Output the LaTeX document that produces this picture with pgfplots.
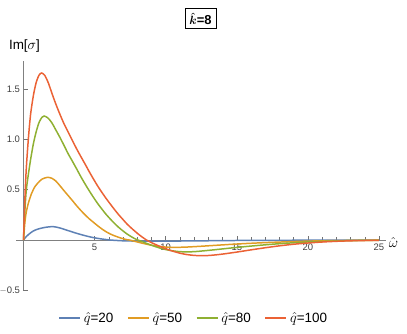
\documentclass[border=0pt]{standalone}
\usepackage{amsmath}
\usepackage{fontspec}
\setmainfont{Liberation Sans}
\usepackage{pgfplots}
\pgfplotsset{compat=1.18}

\definecolor{mblue}{RGB}{94,129,181}
\definecolor{morange}{RGB}{225,156,36}
\definecolor{mgreen}{RGB}{143,176,50}
\definecolor{mred}{RGB}{235,98,53}

\begin{document}
\begin{tikzpicture}
\path[use as bounding box] (-23.5bp,-94bp) rectangle (383.5bp,240bp);
\begin{axis}[
    at={(0,0)}, anchor=origin,
    scale only axis,
    width=369.7bp, height=229.4bp,
    xmin=-0.5, xmax=25.5,
    ymin=-0.5, ymax=1.78,
    axis lines=middle,
    axis line style={black!50, line width=0.9pt, -},
    xtick={5,10,15,20,25},
    ytick={-0.5,0.5,1.0,1.5},
    yticklabels={$-$0.5,0.5,1.0,1.5},
    minor x tick num=4,
    minor y tick num=4,
    tick align=inside,
    major tick length=4bp,
    minor tick length=2.5bp,
    tick style={black!55, line width=0.5pt},
    tick label style={font=\fontsize{9.5}{11}\selectfont, text=black!75},
    /pgf/number format/assume math mode=true,
    /pgf/number format/fixed,
    /pgf/number format/precision=1,
    clip=false,
    legend columns=4,
    legend style={draw=none, fill=none, at={(0.48,-0.121)}, anchor=center,
        font=\fontsize{13.5}{16}\selectfont, column sep=1bp,
        /tikz/every even column/.append style={column sep=12bp}},
    legend image code/.code={\draw[#1, line width=1.2pt] (0bp,0bp) -- (21bp,0bp);},
    every axis plot/.append style={line width=1.5pt, smooth, tension=0.45},
]
\addplot[mblue] table {
x y
0 0
0.2 0.035
0.4 0.06
0.67 0.088
1.0 0.108
1.5 0.125
2.09 0.133
2.6 0.118
3.15 0.093
3.7 0.068
4.33 0.043
4.9 0.024
5.51 0.01
6.1 0.0
6.6 -0.005
7 -0.008
8 -0.011
9 -0.012
10 -0.011
12 -0.009
14 -0.006
16 -0.004
20 -0.002
25 -0.001
};
\addlegendentry{$\hat{q}$=20}
\addplot[morange] table {
x y
0 0
0.1 0.18
0.2 0.28
0.35 0.37
0.56 0.46
0.8 0.53
1.0 0.565
1.3 0.605
1.69 0.623
2.0 0.613
2.28 0.585
2.56 0.54
2.85 0.49
3.15 0.44
3.45 0.39
3.74 0.34
4.03 0.294
4.33 0.25
4.62 0.211
4.92 0.176
5.21 0.142
5.51 0.11
5.8 0.083
6.1 0.06
6.4 0.042
6.69 0.027
7.0 0.013
7.28 0.003
7.45 0.0
7.8 -0.012
8.3 -0.03
8.8 -0.046
9.3 -0.059
9.8 -0.068
10.3 -0.073
10.8 -0.073
11.5 -0.07
12.5 -0.062
13.5 -0.053
14.5 -0.044
15.5 -0.036
17 -0.026
18.5 -0.018
20 -0.011
22 -0.006
25 -0.002
};
\addlegendentry{$\hat{q}$=50}
\addplot[mgreen] table {
x y
0 0
0.1 0.3
0.2 0.5
0.35 0.66
0.5 0.8
0.7 0.96
0.9 1.08
1.1 1.17
1.3 1.22
1.45 1.232
1.7 1.215
1.97 1.17
2.25 1.1
2.56 1.02
2.85 0.94
3.15 0.855
3.45 0.78
3.74 0.706
4.03 0.63
4.33 0.557
4.62 0.49
4.92 0.424
5.21 0.364
5.51 0.308
5.8 0.256
6.1 0.209
6.4 0.165
6.69 0.126
7.0 0.09
7.28 0.06
7.58 0.033
7.87 0.01
8.05 0.0
8.5 -0.025
9.0 -0.052
9.5 -0.076
10 -0.095
10.5 -0.108
11 -0.116
11.5 -0.118
12 -0.116
12.5 -0.11
13.5 -0.096
14.5 -0.081
15.5 -0.067
16.5 -0.054
17.5 -0.042
18.5 -0.032
19.5 -0.023
20.5 -0.016
22 -0.009
23.5 -0.005
25 -0.003
};
\addlegendentry{$\hat{q}$=80}
\addplot[mred] table {
x y
0 0
0.1 0.42
0.2 0.72
0.35 1.02
0.5 1.25
0.7 1.44
0.9 1.57
1.1 1.64
1.28 1.66
1.5 1.635
1.75 1.56
1.97 1.47
2.25 1.36
2.56 1.25
2.85 1.155
3.15 1.07
3.45 0.985
3.74 0.905
4.03 0.83
4.33 0.755
4.62 0.68
4.92 0.606
5.21 0.538
5.51 0.474
5.8 0.415
6.1 0.358
6.4 0.303
6.69 0.252
7.0 0.203
7.28 0.159
7.58 0.119
7.87 0.083
8.17 0.048
8.46 0.018
8.65 0.0
9.0 -0.026
9.5 -0.058
10 -0.087
10.5 -0.111
11 -0.131
11.5 -0.145
12 -0.153
12.5 -0.156
13 -0.154
13.5 -0.148
14 -0.14
15 -0.12
16 -0.098
17 -0.077
18 -0.058
19 -0.042
20 -0.03
21 -0.02
22 -0.013
23 -0.008
24 -0.005
25 -0.003
};
\addlegendentry{$\hat{q}$=100}
\end{axis}
\node[draw=black, line width=0.7pt, inner sep=4.5bp, font=\fontsize{13}{15}\selectfont\bfseries] at (177bp,221.5bp) {$\boldsymbol{\hat{k}}$=8};
\node[font=\fontsize{13.5}{15}\selectfont] at (1bp,194bp) {Im[$\sigma$]};
\node[font=\fontsize{15}{17}\selectfont] at (370bp,-3bp) {$\hat{\omega}$};
\end{tikzpicture}
\end{document}
